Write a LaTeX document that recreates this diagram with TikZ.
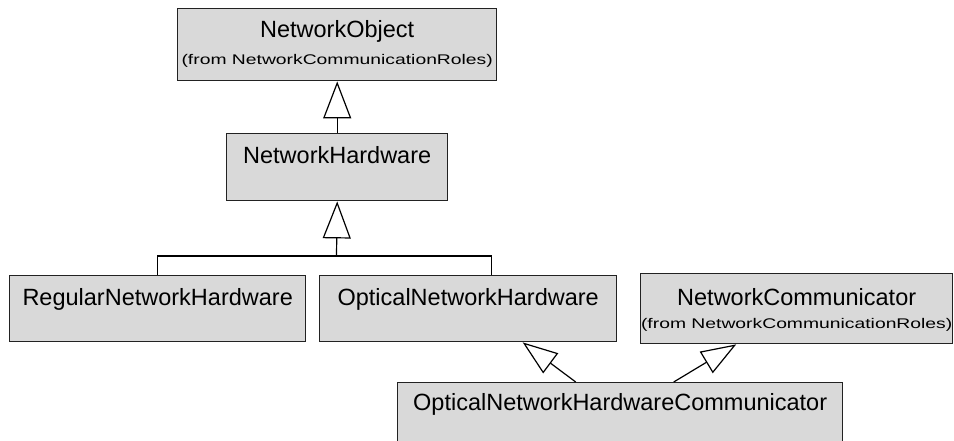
\documentclass[tikz,border=0pt]{standalone}
\usepackage{fontspec}
\setmainfont{Liberation Sans}
\newfontfamily\smallfont[FakeStretch=1.38]{Liberation Sans}
\usetikzlibrary{arrows.meta,calc}
\definecolor{boxfill}{HTML}{D9D9D9}
\definecolor{edge}{HTML}{222222}
\tikzset{
  umlbox/.style={draw=edge, fill=boxfill, line width=1.4pt, anchor=north west, inner sep=0pt},
  title/.style={anchor=base, inner sep=0pt, font=\fontsize{23.5}{28}\selectfont},
  from/.style={anchor=base, inner sep=0pt, font=\smallfont\fontsize{14}{16}\selectfont},
  conn/.style={draw=black, line width=1.2pt},
  genv/.style={conn, -{Triangle[open, length=37pt, width=28pt, line width=1.2pt]}},
  gend/.style={conn, -{Triangle[open, length=35pt, width=25pt, line width=1.2pt]}}
}
\begin{document}
\begin{tikzpicture}[x=1pt, y=-1pt]
\clip (0,0) rectangle (954,441);
\fill[white] (0,0) rectangle (954,441);
% boxes
\node[umlbox, minimum width=319pt, minimum height=72pt] (nobj) at (177,8) {};
\node[title] (nobjt) at ([yshift=-30pt]nobj.north) {NetworkObject};
\node[from] (nobjf) at ([yshift=-57pt]nobj.north) {(from NetworkCommunicationRoles)};

\node[umlbox, minimum width=221pt, minimum height=67pt] (nh) at (226,133) {};
\node[title] (nht) at ([yshift=-31pt]nh.north) {NetworkHardware};

\node[umlbox, minimum width=296pt, minimum height=66pt] (reg) at (9,275) {};
\node[title] (regt) at ([yshift=-30pt]reg.north) {RegularNetworkHardware};

\node[umlbox, minimum width=297pt, minimum height=66pt] (opt) at (319,275) {};
\node[title] (optt) at ([yshift=-30pt]opt.north) {OpticalNetworkHardware};

\node[umlbox, minimum width=312pt, minimum height=70pt] (nc) at (640,273) {};
\node[title] (nct) at ([yshift=-32pt]nc.north) {NetworkCommunicator};
\node[from] (ncf) at ([yshift=-55pt]nc.north) {(from NetworkCommunicationRoles)};

\node[umlbox, minimum width=445pt, minimum height=80pt] (onhc) at (397,382) {};
\node[title] (onhct) at ([yshift=-28pt]onhc.north) {OpticalNetworkHardwareCommunicator};

% connectors
\draw[genv] (nh.north) -- (nobj.south);
\coordinate (bus) at (336.5,256);
\coordinate (optin) at ($(opt.north)+(23.5,0)$);
\draw[conn] (reg.north) |- (optin |- bus) -- (optin);
\draw[genv] (bus) -- (nh.south);

\coordinate (s1) at ($(onhc.north)+(-44.5,0)$);
\coordinate (t1) at ($(opt.south)+(54.5,0)$);
\draw[gend] (s1) -- (t1);
\coordinate (s2) at ($(onhc.north)+(53.5,0)$);
\coordinate (t2) at ($(nc.south)+(-60.5,0)$);
\draw[gend] (s2) -- (t2);
\end{tikzpicture}
\end{document}
